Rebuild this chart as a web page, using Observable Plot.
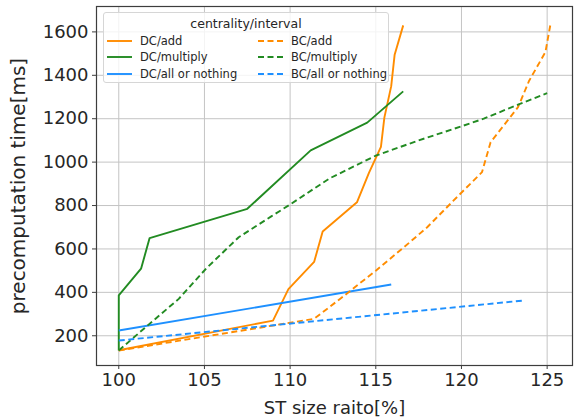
<!DOCTYPE html>
<html>
<head>
<meta charset="utf-8">
<script src="https://cdn.jsdelivr.net/npm/d3@7"></script>
<script src="https://cdn.jsdelivr.net/npm/@observablehq/plot@0.6"></script>
<style>
  html, body { margin: 0; padding: 0; background: white; }
  #wrap { position: relative; width: 582px; height: 419px; font-family: "DejaVu Sans", sans-serif; }
  #legend { position: absolute; left: 103px; top: 12px; width: 286px; height: 71px;
    background: rgba(255,255,255,0.8); border: 1px solid #d6d6d6; border-radius: 3px; box-sizing: border-box; color: #262626; }
  #legend .title { position: absolute; left: 0; right: 0; top: 3px; text-align: center; font-size: 12.5px; }
  #legend .item { position: absolute; font-size: 11.5px; white-space: nowrap; display: flex; align-items: center; }
  #legend .item svg { margin-right: 8px; }
</style>
</head>
<body>
<div id="wrap"></div>
<script>
// ---- data ----
const xTicks = [100, 105, 110, 115, 120, 125];
const yTicks = [200, 400, 600, 800, 1000, 1200, 1400, 1600];
const xLabel = "ST size raito[%]";
const yLabel = "precomputation time[ms]";
const legendTitle = "centrality/interval";

const seriesNames = ["DC/add", "DC/multiply", "DC/all or nothing", "BC/add", "BC/multiply", "BC/all or nothing"];
const seriesColors = ["#ff8c00", "#228b22", "#1e90ff", "#ff8c00", "#228b22", "#1e90ff"];
const seriesDashed = [false, false, false, true, true, true];

const dcAddX = [100, 109.0, 109.9, 111.4, 111.9, 113.9, 114.6, 115.3, 115.5, 115.9, 116.1, 116.6];
const dcAddY = [133, 270, 415, 540, 680, 815, 950, 1070, 1205, 1350, 1495, 1630];
const dcMulX = [100, 100, 101.3, 101.8, 107.5, 111.2, 114.5, 116.6];
const dcMulY = [132, 386, 509, 650, 785, 1054, 1182, 1326];
const dcAllX = [100, 115.9];
const dcAllY = [224, 436];
const bcAddX = [100, 111.4, 113.0, 115.0, 116.6, 118.0, 119.5, 121.2, 121.7, 123.3, 123.95, 124.9, 125.2];
const bcAddY = [132, 278, 375, 500, 605, 700, 820, 954, 1092, 1253, 1375, 1507, 1638];
const bcMulX = [100, 101.5, 103.5, 105.1, 107.0, 108.9, 110.0, 112.3, 115.0, 117.5, 120.0, 121.3, 123.3, 125.0];
const bcMulY = [132, 235, 370, 510, 654, 750, 805, 925, 1030, 1100, 1165, 1200, 1265, 1318];
const bcAllX = [100, 123.7];
const bcAllY = [178, 363];

const seriesX = [dcAddX, dcMulX, dcAllX, bcAddX, bcMulX, bcAllX];
const seriesY = [dcAddY, dcMulY, dcAllY, bcAddY, bcMulY, bcAllY];

// ---- build ----
const DASH = "6,3.5";
const lineMarks = seriesNames.map((name, i) => {
  const rows = seriesX[i].map((x, j) => ({x, y: seriesY[i][j]}));
  return Plot.line(rows, {x: "x", y: "y", stroke: seriesColors[i], strokeWidth: 1.9,
    strokeDasharray: seriesDashed[i] ? DASH : null, strokeLinejoin: "round", strokeLinecap: "butt"});
});

const fmt = d => String(d);
const chart = Plot.plot({
  width: 582, height: 419,
  marginLeft: 96, marginRight: 10, marginTop: 6, marginBottom: 54,
  style: {fontFamily: "DejaVu Sans, sans-serif", fontSize: "18px", background: "white", color: "#262626", overflow: "visible"},
  x: {domain: [98.7, 126.48]},
  y: {domain: [63, 1717]},
  marks: [
    Plot.gridX(xTicks, {stroke: "#c4c4c4", strokeOpacity: 1, strokeWidth: 1}),
    Plot.gridY(yTicks, {stroke: "#c4c4c4", strokeOpacity: 1, strokeWidth: 1}),
    ...lineMarks,
    Plot.frame({stroke: "#3d3d3d", strokeWidth: 1.2}),
    Plot.axisX(xTicks, {tickSize: 4, tickPadding: 4, fontSize: 18, label: null, stroke: "#3d3d3d", tickFormat: fmt}),
    Plot.axisY(yTicks, {tickSize: 4, tickPadding: 4, fontSize: 18, label: null, stroke: "#3d3d3d", tickFormat: fmt}),
    Plot.text([xLabel], {frameAnchor: "bottom", dy: 43, text: d => d, fontSize: 18, fill: "#262626", lineAnchor: "middle", textAnchor: "middle"}),
    Plot.text([yLabel], {frameAnchor: "left", dx: -78, rotate: -90, text: d => d, fontSize: 20, fill: "#262626", lineAnchor: "middle", textAnchor: "middle"})
  ]
});

const wrap = document.getElementById("wrap");
wrap.appendChild(chart);

// ---- legend ----
const legend = document.createElement("div");
legend.id = "legend";
const t = document.createElement("div");
t.className = "title";
t.textContent = legendTitle;
legend.appendChild(t);
seriesNames.forEach((name, i) => {
  const col = Math.floor(i / 3), row = i % 3;
  const it = document.createElement("div");
  it.className = "item";
  it.style.left = (col === 0 ? 3 : 154) + "px";
  it.style.top = (21 + row * 16.3) + "px";
  const svg = d3.create("svg").attr("width", 25).attr("height", 10);
  svg.append("line").attr("x1", 0).attr("x2", 25).attr("y1", 5).attr("y2", 5)
    .attr("stroke", seriesColors[i]).attr("stroke-width", 1.9)
    .attr("stroke-dasharray", seriesDashed[i] ? DASH : null);
  it.appendChild(svg.node());
  const s = document.createElement("span");
  s.textContent = name;
  it.appendChild(s);
  legend.appendChild(it);
});
wrap.appendChild(legend);
</script>
</body>
</html>
